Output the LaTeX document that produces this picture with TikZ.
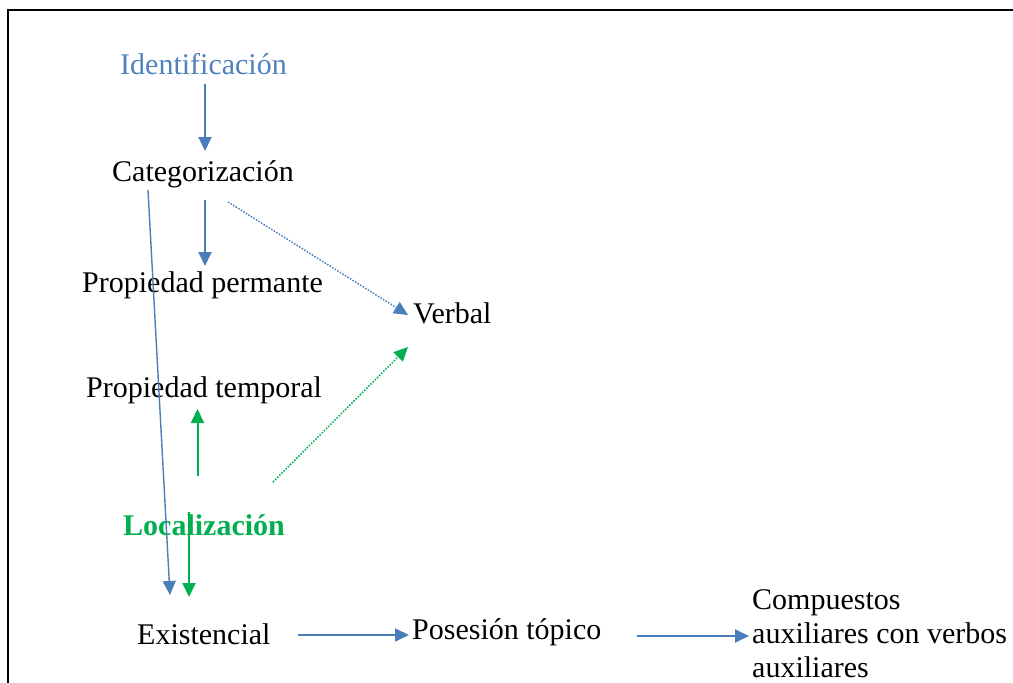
\documentclass[tikz,border=0pt]{standalone}
\usepackage{fontspec}
\setmainfont{Liberation Serif}
\usetikzlibrary{arrows.meta,calc}
\definecolor{ablue}{RGB}{74,126,187}
\definecolor{tblue}{RGB}{79,129,189}
\definecolor{agreen}{RGB}{0,176,80}
\begin{document}
\begin{tikzpicture}[x=1pt,y=-1pt,
  txt/.style={inner sep=0pt, anchor=base west, font=\fontsize{30}{34}\selectfont},
  headtip/.style={-{Triangle[length=14pt,width=13pt]}},
  barr/.style={headtip, color=ablue, line width=2pt},
  bthin/.style={headtip, color=ablue, line width=1.4pt},
  bdot/.style={headtip, color=ablue, line width=1.5pt, dash pattern=on 1.5pt off 1.5pt},
  garr/.style={headtip, color=agreen, line width=2pt},
  gdot/.style={headtip, color=agreen, line width=1.5pt, dash pattern=on 1.5pt off 1.5pt},
  frame/.style={line width=2pt, black}]
\useasboundingbox (0,0) rectangle (1013,683);
\draw[frame] (8,683) -- (8,10) -- (1013,10);

\node[txt, text=tblue] (ident) at (120,74) {Identificación};
\node[txt] (cat) at (112,181) {Categorización};
\node[txt] (pperm) at (82,292) {Propiedad permante};
\node[txt] (verbal) at (413,323) {Verbal};
\node[txt] (ptemp) at (86,397) {Propiedad temporal};
\node[txt, text=agreen, font=\fontsize{30}{34}\selectfont\bfseries] (loc) at (123,535) {Localización};
\node[txt] (exist) at (137,644) {Existencial};
\node[txt] (pos) at (412,639) {Posesión tópico};
\node[txt, align=left] (comp) at (752,677) {Compuestos\\auxiliares con verbos\\auxiliares};

\draw[barr] ($(ident.base west)+(85,10)$) -- ($(cat.base west)+(93,-30)$);
\draw[barr] ($(cat.base west)+(93,19)$) -- ($(pperm.base west)+(123,-26)$);
\draw[bdot] ($(cat.base west)+(116,21)$) -- ($(verbal.base west)+(-5,-8)$);
\draw[bthin] ($(cat.base west)+(36,9)$) -- ($(exist.base west)+(33,-49)$);
\draw[garr] ($(loc.base west)+(74.5,-59)$) -- ($(ptemp.base west)+(111.5,12)$);
\draw[gdot] ($(loc.base west)+(150,-53)$) -- ($(verbal.base west)+(-5,24)$);
\draw[garr] ($(loc.base west)+(66,-23)$) -- ($(exist.base west)+(52,-47)$);
\draw[barr] ($(exist.base west)+(161,-9)$) -- ($(pos.base west)+(-3,-4)$);
\draw[barr] ($(pos.base west)+(225,-3)$) -- ($(comp.base west)+(-3,-41)$);
\end{tikzpicture}
\end{document}
